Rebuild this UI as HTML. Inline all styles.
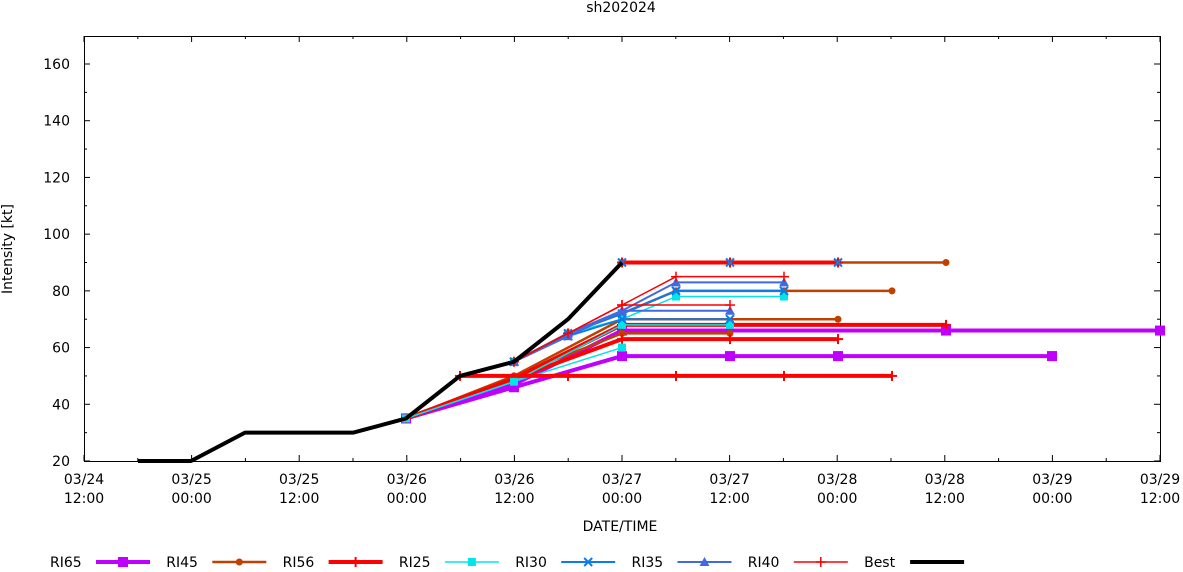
<!DOCTYPE html>
<html><head><meta charset="utf-8"><style>
body{margin:0;background:#fff;}
svg text{font-family:"DejaVu Sans","Liberation Sans",sans-serif;font-size:14px;fill:#000;}
</style></head><body>
<svg id="s" width="1183" height="567" xmlns="http://www.w3.org/2000/svg">
<rect x="0" y="0" width="1183" height="567" fill="#fff"/>
<text x="621" y="12" text-anchor="middle">sh202024</text>
<rect x="84.5" y="36.5" width="1076" height="425" fill="none" stroke="#000" stroke-width="1"/>
<text x="620" y="531" text-anchor="middle">DATE/TIME</text>
<text transform="translate(12,249) rotate(-90)" text-anchor="middle">Intensity [kt]</text>
<g id="g"></g>
</svg>
<script>
const g=document.getElementById('g');const NS='http://www.w3.org/2000/svg';
function el(t,a,txt){const e=document.createElementNS(NS,t);for(const k in a)e.setAttribute(k,a[k]);if(txt)e.textContent=txt;g.appendChild(e);return e;}
const Y=v=>461-(v-20)*2.8357;
for(let v=20;v<=160;v+=20){const y=Y(v);el('line',{x1:84,y1:y,x2:90,y2:y,stroke:'#000'});el('line',{x1:1154,y1:y,x2:1160,y2:y,stroke:'#000'});el('text',{x:70,y:y+5,'text-anchor':'end'},String(v));}
for(let v=30;v<170;v+=20){const y=Y(v);el('line',{x1:84,y1:y,x2:87,y2:y,stroke:'#000'});el('line',{x1:1157,y1:y,x2:1160,y2:y,stroke:'#000'});}
const lab=[['03/24','12:00'],['03/25','00:00'],['03/25','12:00'],['03/26','00:00'],['03/26','12:00'],['03/27','00:00'],['03/27','12:00'],['03/28','00:00'],['03/28','12:00'],['03/29','00:00'],['03/29','12:00']];
for(let i=0;i<=10;i++){const x=84+i*107.6;el('line',{x1:x,y1:461,x2:x,y2:455,stroke:'#000'});el('line',{x1:x,y1:36,x2:x,y2:42,stroke:'#000'});
el('text',{x:x,y:484,'text-anchor':'middle'},lab[i][0]);el('text',{x:x,y:503,'text-anchor':'middle'},lab[i][1]);
if(i<10){const m=x+53.8;el('line',{x1:m,y1:461,x2:m,y2:458,stroke:'#000'});el('line',{x1:m,y1:36,x2:m,y2:39,stroke:'#000'});}}
function mk(type,x,y,c){
 if(type=='sq')el('rect',{x:x-5,y:y-5,width:10,height:10,fill:c});
 else if(type=='dot')el('circle',{cx:x,cy:y,r:3.5,fill:c});
 else if(type=='plus'){el('line',{x1:x-5,y1:y,x2:x+5,y2:y,stroke:c,'stroke-width':2});el('line',{x1:x,y1:y-5,x2:x,y2:y+5,stroke:c,'stroke-width':2});}
 else if(type=='csq')el('rect',{x:x-4,y:y-4,width:8,height:8,fill:c});
 else if(type=='x'){el('line',{x1:x-4,y1:y-4,x2:x+4,y2:y+4,stroke:c,'stroke-width':2});el('line',{x1:x-4,y1:y+4,x2:x+4,y2:y-4,stroke:c,'stroke-width':2});}
 else if(type=='tri')el('polygon',{points:`${x},${y-5} ${x-5},${y+4} ${x+5},${y+4}`,fill:c});
 else if(type=='tplus'){el('line',{x1:x-5,y1:y,x2:x+5,y2:y,stroke:c,'stroke-width':1.5});el('line',{x1:x,y1:y-5,x2:x,y2:y+5,stroke:c,'stroke-width':1.5});}
}
function ser(pts,c,w,m){el('polyline',{points:pts.map(p=>p[0]+','+Y(p[1])).join(' '),fill:'none',stroke:c,'stroke-width':w,'stroke-linejoin':'round'});pts.forEach(p=>mk(m,p[0],Y(p[1]),c));}
const P='#bf00ff',B='#c04000',R='#ff0000',C='#00e5e5',BL='#0a7de8',RB='#4169e1';
ser([[406,35],[514,46],[622,57],[730,57],[838,57],[1052,57]],P,4,'sq');
ser([[406,35],[514,47],[622,66],[946,66],[1160,66]],P,4,'sq');
ser([[406,35],[514,50],[622,65],[730,65]],B,2.5,'dot');
ser([[406,35],[514,50],[622,70],[838,70]],B,2.5,'dot');
ser([[406,35],[514,49],[622,63],[730,63],[838,63]],R,4,'plus');
ser([[406,35],[514,49],[622,68],[946,68]],R,4,'plus');
ser([[406,35],[514,48],[622,60]],C,1.5,'csq');
ser([[406,35],[514,48],[622,68],[730,68]],C,1.5,'csq');
ser([[460,50],[568,50],[676,50],[784,50],[892,50]],R,4,'plus');
ser([[514,55],[568,65],[622,72],[676,80],[784,80],[892,80]],B,2.5,'dot');
ser([[514,55],[568,65],[622,70],[676,78],[784,78]],C,1.5,'csq');
ser([[514,55],[568,65],[622,72],[676,80],[784,80]],BL,2,'x');
ser([[514,55],[568,65],[622,73],[676,83],[784,83]],RB,2,'tri');
ser([[514,55],[568,65],[622,75],[676,85],[784,85]],R,1.5,'tplus');
ser([[514,55],[568,64],[622,70],[730,70]],BL,2,'x');
ser([[514,55],[568,64],[622,73],[730,73]],RB,2,'tri');
ser([[514,55],[568,65],[622,75],[730,75]],R,1.5,'tplus');
ser([[622,90],[838,90],[946,90]],B,2.5,'dot');
ser([[622,90],[730,90],[838,90]],R,4,'plus');
[[622,90],[730,90],[838,90]].forEach(p=>mk('x',p[0],Y(p[1]),BL));
ser([[138,20],[191,20],[245,30],[299,30],[353,30],[406,35],[460,50],[514,55],[568,70],[622,90]],'#000',4,'none');
const L=[['RI65',P,4,'sq'],['RI45',B,2.5,'dot'],['RI56',R,4,'plus'],['RI25',C,1.5,'csq'],['RI30',BL,2,'x'],['RI35',RB,2,'tri'],['RI40',R,1.5,'tplus'],['Best','#000',4,'none']];
L.forEach((l,i)=>{const tx=50+i*116.3,lx=96+i*116.3,ly=562;
 el('text',{x:tx,y:567},l[0]);
 el('line',{x1:lx,y1:ly,x2:lx+54,y2:ly,stroke:l[1],'stroke-width':l[2]});
 mk(l[3],lx+27,ly,l[1]);
});
</script>
</body></html>
